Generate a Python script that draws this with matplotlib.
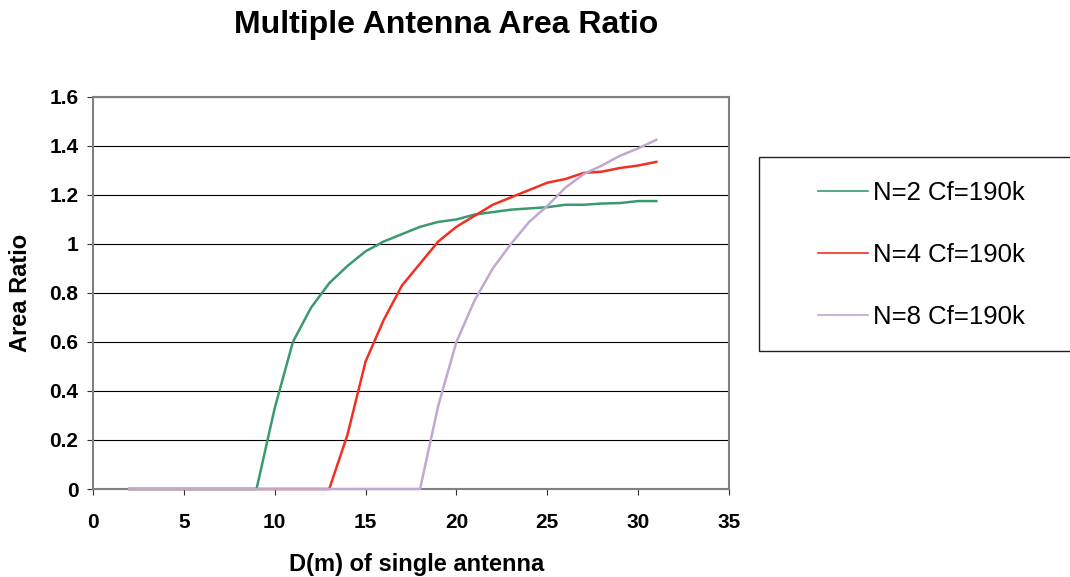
import matplotlib
matplotlib.use("Agg")
import matplotlib.pyplot as plt
from matplotlib.lines import Line2D
from matplotlib.patches import Rectangle

plt.rcParams['font.family'] = ['Liberation Sans', 'DejaVu Sans']

d = list(range(2, 32))
n2 = [0] * 8 + [0.33, 0.60, 0.74, 0.84, 0.91, 0.97, 1.01, 1.04, 1.07, 1.09, 1.10,
                1.12, 1.13, 1.14, 1.145, 1.15, 1.16, 1.16, 1.165, 1.167, 1.175, 1.175]
n4 = [0] * 12 + [0.22, 0.52, 0.69, 0.83, 0.92, 1.01, 1.07, 1.115, 1.16, 1.19, 1.22, 1.25,
                 1.265, 1.29, 1.295, 1.31, 1.32, 1.335]
n8 = [0] * 17 + [0.34, 0.60, 0.77, 0.90, 1.00, 1.09, 1.155, 1.23, 1.285, 1.32, 1.36, 1.39, 1.425]
labels = ["N=2 Cf=190k", "N=4 Cf=190k", "N=8 Cf=190k"]
colors = ["#3a9a6e", "#f03020", "#c0a8d0"]

fig = plt.figure(figsize=(10.7, 5.77), dpi=100)
ax = fig.add_axes([0.0869, 0.1525, 0.5944, 0.6795])
for ys, lab, c in zip([n2, n4, n8], labels, colors):
    ax.plot(d, ys, color=c, lw=1.8, label=lab, clip_on=False, zorder=3)

ax.set_xlim(0, 35)
ax.set_ylim(0, 1.6)
ax.set_xticks(range(0, 36, 5))
ax.set_yticks([0, 0.2, 0.4, 0.6, 0.8, 1, 1.2, 1.4, 1.6])
ax.set_yticklabels(["0", "0.2", "0.4", "0.6", "0.8", "1", "1.2", "1.4", "1.6"])
ax.yaxis.grid(True, color="black", lw=0.8)
ax.set_axisbelow(True)
for s in ax.spines.values():
    s.set_color("#808080")
    s.set_linewidth(1.5)
ax.tick_params(axis='y', labelsize=15, length=4.5, width=0.8, color="#303030", pad=6)
ax.tick_params(axis='x', labelsize=15, length=4.5, width=0.8, color="#303030", pad=13)
for t in ax.get_xticklabels() + ax.get_yticklabels():
    t.set_fontweight("bold")
fig.text(0.389, 0.0225, "D(m) of single antenna", fontsize=17, fontweight="bold",
         ha="center", va="center")
fig.text(0.0196, 0.493, "Area Ratio", fontsize=17, fontweight="bold",
         ha="center", va="center", rotation=90)
fig.text(0.4173, 0.957, "Multiple Antenna Area Ratio", fontsize=23, fontweight="bold",
         ha="center", va="center")

fig.patches.append(Rectangle((759 / 1070, 1 - 351 / 577), 0.4, 194 / 577,
                             transform=fig.transFigure, fill=False,
                             edgecolor="#202020", lw=1.0))
handles = [Line2D([], [], color=c, lw=1.2) for c in colors]
fig.legend(handles, labels, loc="upper left", bbox_to_anchor=(818 / 1070, 1 - 181 / 577),
           frameon=False, fontsize=18.5, handlelength=1.95, labelspacing=1.48,
           borderpad=0, handletextpad=0.2, borderaxespad=0)

fig.savefig("out.png", dpi=100)
